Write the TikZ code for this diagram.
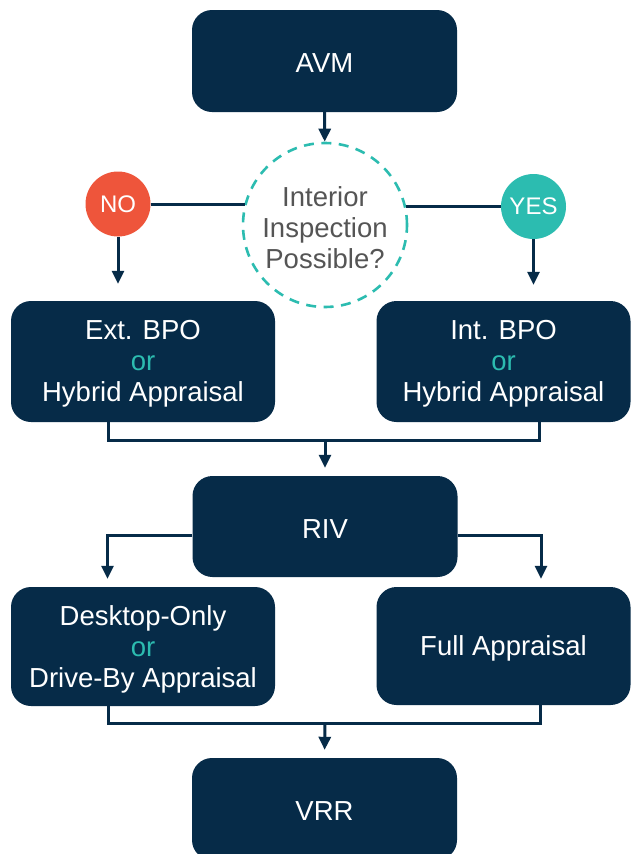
\documentclass[tikz,border=0pt]{standalone}
\usepackage{fontspec}
\setmainfont{Liberation Sans}
\usetikzlibrary{arrows.meta,calc}
\definecolor{navy}{HTML}{062B48}
\definecolor{tealc}{HTML}{2CBCB0}
\definecolor{redc}{HTML}{EE553B}
\definecolor{greyc}{HTML}{555555}
\begin{document}
\begin{tikzpicture}[x=1pt,y=-1pt,
  box/.style={fill=navy, rounded corners=20pt, inner sep=0pt},
  boxtext/.style={text=white, align=center, inner sep=0pt, yshift=-2.5pt,
    font=\fontsize{27.5}{31}\selectfont},
  conn/.style={draw=navy, line width=3pt},
  arr/.style={conn, -{Triangle[width=12pt,length=13pt]}},
  badge/.style={circle, minimum size=65pt, inner sep=0pt, text=white,
    font=\fontsize{24}{26}\selectfont}]
\useasboundingbox (0,0) rectangle (631,854);
\fill[white] (0,0) rectangle (631,854);

\node[box, minimum width=265pt, minimum height=102pt,
  label={[boxtext]center:AVM}] (AVM) at (324.5,61) {};
\node[circle, draw=tealc, line width=2.6pt, dash pattern=on 10pt off 7.5pt,
  minimum size=164pt, inner sep=0pt,
  label={[boxtext, text=greyc]center:{Interior\\Inspection\\Possible?}}]
  (Q) at (325,225) {};
\node[badge, fill=redc] (NO) at (118,204) {NO};
\node[badge, fill=tealc] (YES) at (533.5,206.5) {YES};

\node[box, minimum width=264pt, minimum height=121pt,
  label={[boxtext]center:{Ext. BPO\\\textcolor{tealc}{or}\\Hybrid Appraisal}}]
  (EXT) at (143,361.5) {};
\node[box, minimum width=254pt, minimum height=121pt,
  label={[boxtext]center:{Int. BPO\\\textcolor{tealc}{or}\\Hybrid Appraisal}}]
  (INT) at (503.5,361.5) {};

\node[box, minimum width=265pt, minimum height=101pt,
  label={[boxtext]center:RIV}] (RIV) at (325,526.5) {};

\node[box, minimum width=264pt, minimum height=119pt,
  label={[boxtext]center:{Desktop-Only\\\textcolor{tealc}{or}\\Drive-By Appraisal}}]
  (DESK) at (143,646.5) {};
\node[box, minimum width=254pt, minimum height=118pt,
  label={[boxtext]center:Full Appraisal}] (FULL) at (503.5,646) {};

\node[box, minimum width=265pt, minimum height=102pt,
  label={[boxtext]center:VRR}] (VRR) at (324.5,809) {};

% connectors
\draw[arr] (AVM) -- (Q);
\draw[conn] (NO.east) -- (Q.165 |- NO.east);
\draw[conn] (Q.14 |- YES.west) -- (YES.west);
\draw[arr, shorten >=17pt] (NO.south) -- (NO.south |- EXT.north);
\draw[arr, shorten >=16pt] (YES.south) -- (YES.south |- INT.north);

\coordinate (b1) at (108.5,440);
\coordinate (b2) at (539.5,440);
\coordinate (j1) at (325,440);
\draw[conn] (EXT.south -| b1) -- (b1) -- (b2) -- (INT.south -| b2);
\draw[arr, shorten >=8pt] (j1) -- (RIV.north);

\coordinate (c1) at (107.5,535.5);
\coordinate (c2) at (541,535.5);
\draw[arr, shorten >=8pt] (RIV.west |- c1) -- (c1) -- (c1 |- DESK.north);
\draw[arr, shorten >=8pt] (RIV.east |- c2) -- (c2) -- (c2 |- FULL.north);

\coordinate (d1) at (108.5,723);
\coordinate (d2) at (540,723);
\coordinate (j2) at (325,723);
\draw[conn] (DESK.south -| d1) -- (d1) -- (d2) -- (FULL.south -| d2);
\draw[arr, shorten >=8pt] (j2) -- (VRR.north);
\end{tikzpicture}
\end{document}
